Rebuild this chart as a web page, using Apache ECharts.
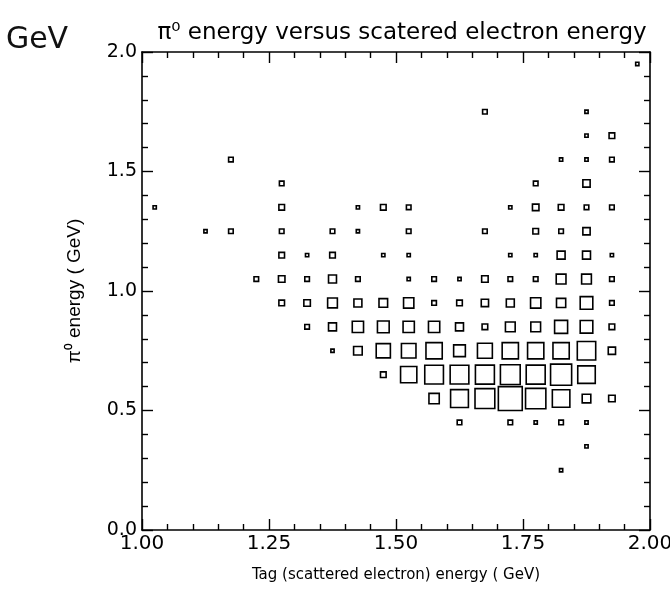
<!DOCTYPE html>
<html><head><meta charset="utf-8">
<script src="https://cdn.jsdelivr.net/npm/echarts@6/dist/echarts.min.js"></script>
<style>html,body{margin:0;padding:0;background:#fff}#c{width:670px;height:593px}</style>
</head><body><div id="c"></div>
<script>
const chartTitle = 'π⁰ energy versus scatered electron energy';
const xName = 'Tag (scattered electron) energy ( GeV)';
const yName = 'π⁰ energy ( GeV)';
const note = 'GeV';
const xMin = 1.0, xMax = 2.0, xStep = 0.25;
const yMin = 0.0, yMax = 2.0, yStep = 0.5;
const binW = 0.05, binH = 0.1;

// cell centres and contents
const cellY = [
 1.95,
 1.75,1.75,
 1.65,1.65,
 1.55,1.55,1.55,1.55,
 1.45,1.45,1.45,
 1.35,1.35,1.35,1.35,1.35,1.35,1.35,1.35,1.35,1.35,
 1.25,1.25,1.25,1.25,1.25,1.25,1.25,1.25,1.25,1.25,
 1.15,1.15,1.15,1.15,1.15,1.15,1.15,1.15,1.15,1.15,
 1.05,1.05,1.05,1.05,1.05,1.05,1.05,1.05,1.05,1.05,1.05,1.05,1.05,1.05,
 0.95,0.95,0.95,0.95,0.95,0.95,0.95,0.95,0.95,0.95,0.95,0.95,0.95,0.95,
 0.85,0.85,0.85,0.85,0.85,0.85,0.85,0.85,0.85,0.85,0.85,0.85,0.85,
 0.75,0.75,0.75,0.75,0.75,0.75,0.75,0.75,0.75,0.75,0.75,0.75,
 0.65,0.65,0.65,0.65,0.65,0.65,0.65,0.65,0.65,
 0.55,0.55,0.55,0.55,0.55,0.55,0.55,0.55,
 0.45,0.45,0.45,0.45,0.45,
 0.35,
 0.25
];
const cellX = [
 1.975,
 1.675,1.875,
 1.875,1.925,
 1.175,1.825,1.875,1.925,
 1.275,1.775,1.875,
 1.025,1.275,1.425,1.475,1.525,1.725,1.775,1.825,1.875,1.925,
 1.125,1.175,1.275,1.375,1.425,1.525,1.675,1.775,1.825,1.875,
 1.275,1.325,1.375,1.475,1.525,1.725,1.775,1.825,1.875,1.925,
 1.225,1.275,1.325,1.375,1.425,1.525,1.575,1.625,1.675,1.725,1.775,1.825,1.875,1.925,
 1.275,1.325,1.375,1.425,1.475,1.525,1.575,1.625,1.675,1.725,1.775,1.825,1.875,1.925,
 1.325,1.375,1.425,1.475,1.525,1.575,1.625,1.675,1.725,1.775,1.825,1.875,1.925,
 1.375,1.425,1.475,1.525,1.575,1.625,1.675,1.725,1.775,1.825,1.875,1.925,
 1.475,1.525,1.575,1.625,1.675,1.725,1.775,1.825,1.875,
 1.575,1.625,1.675,1.725,1.775,1.825,1.875,1.925,
 1.625,1.725,1.775,1.825,1.875,
 1.875,
 1.825
];
const cellN = [
 1,
 2,1,
 1,3,
 2,1,1,2,
 2,2,5,
 1,3,1,3,2,1,4,3,2,2,
 1,2,2,2,1,2,2,3,2,5,
 3,1,3,1,1,1,1,6,6,1,
 2,4,2,6,2,1,2,1,4,2,2,9,9,2,
 3,4,9,6,7,10,2,3,5,6,10,8,15,2,
 2,6,12,13,12,12,6,3,9,9,16,15,3,
 1,7,19,20,25,13,21,25,25,25,32,5,
 3,25,33,33,34,37,34,42,29,
 10,30,37,54,39,29,7,4,
 2,2,1,2,1,
 1,
 1
];

const nMax = Math.max(...cellN);
const cells = cellX.map((x, i) => [x, cellY[i], cellN[i]]);

const labelFont = 'DejaVu Sans';
const chart = echarts.init(document.getElementById('c'), null, {renderer: 'canvas'});

function frameAxis(base) {
  return Object.assign({
    type: 'value',
    axisLine: {show: true, onZero: false, lineStyle: {color: '#000', width: 1.6}},
    axisTick: {show: true, inside: true, length: 11, lineStyle: {color: '#000', width: 1.4}},
    minorTick: {show: true, splitNumber: 5, length: 6, lineStyle: {color: '#000', width: 1.4}},
    splitLine: {show: false},
    minorSplitLine: {show: false}
  }, base);
}

chart.setOption({
  backgroundColor: '#fff',
  animation: false,
  grid: {left: 142, right: 20, top: 52, bottom: 63, containLabel: false, outerBoundsMode: 'none'},
  xAxis: [
    frameAxis({
      position: 'bottom', min: xMin, max: xMax, interval: xStep,
      name: xName, nameLocation: 'middle', nameGap: 38,
      nameTextStyle: {fontFamily: labelFont, fontSize: 15, color: '#000'},
      axisLabel: {show: true, margin: 4, fontFamily: labelFont, fontSize: 20, color: '#000',
        formatter: v => v.toFixed(2)}
    }),
    frameAxis({
      position: 'top', min: xMin, max: xMax, interval: xStep,
      axisLabel: {show: false}
    })
  ],
  yAxis: [
    frameAxis({
      position: 'left', min: yMin, max: yMax, interval: yStep,
      name: yName, nameLocation: 'middle', nameGap: 58, nameRotate: 90,
      nameTextStyle: {fontFamily: 'Liberation Sans', fontSize: 19, color: '#000'},
      axisLabel: {show: true, margin: 5, fontFamily: labelFont, fontSize: 19, color: '#000',
        formatter: v => v.toFixed(1)}
    }),
    frameAxis({
      position: 'right', min: yMin, max: yMax, interval: yStep,
      axisLabel: {show: false}
    })
  ],
  graphic: [
    {type: 'text', x: 402, y: 33, style: {text: chartTitle, fontFamily: labelFont, fontSize: 23, fill: '#000',
      textAlign: 'center', textVerticalAlign: 'middle'}},
    {type: 'text', x: 37, y: 40, style: {text: note, fontFamily: 'DejaVu Sans', fontSize: 30, fill: '#111',
      textAlign: 'center', textVerticalAlign: 'middle'}}
  ],
  series: [{
    type: 'custom',
    xAxisIndex: 0, yAxisIndex: 0,
    data: cells,
    clip: false,
    renderItem: function (params, api) {
      const x = api.value(0), y = api.value(1), n = api.value(2);
      const c = api.coord([x, y]);
      const s = api.size([binW, binH]);
      const side = Math.min(s[0], s[1]) * Math.sqrt(n / nMax);
      return {
        type: 'rect',
        shape: {x: c[0] - side / 2, y: c[1] - side / 2, width: side, height: side},
        style: {fill: 'none', stroke: '#000', lineWidth: 1.6}
      };
    }
  }]
});
</script>
</body></html>
